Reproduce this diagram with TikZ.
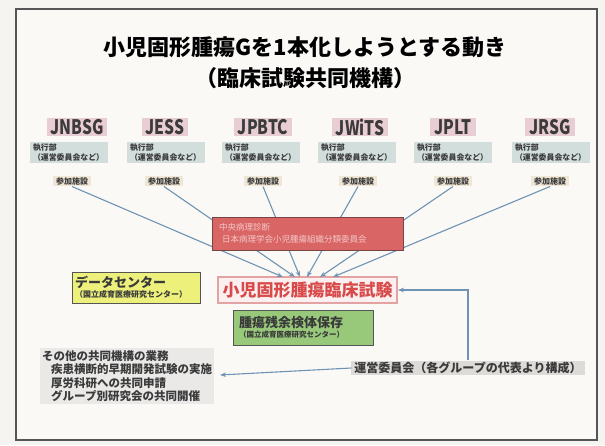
\documentclass[tikz,border=0pt]{standalone}
\usepackage{fontspec}
\setmainfont{Noto Sans CJK JP}
\usetikzlibrary{arrows.meta,calc}
\definecolor{paper}{HTML}{F6F4F0}
\definecolor{inner}{HTML}{FAF9F6}
\definecolor{framecol}{HTML}{555555}
\definecolor{grpbg}{HTML}{E8CDD5}
\definecolor{grptxt}{HTML}{3C3A3A}
\definecolor{execbg}{HTML}{D2DEDC}
\definecolor{sitebg}{HTML}{EFE6D6}
\definecolor{darktxt}{HTML}{3A3A3A}
\definecolor{linecol}{HTML}{6F93B4}
\definecolor{redfill}{HTML}{D96565}
\definecolor{redtxt}{HTML}{F4C8C8}
\definecolor{trialfill}{HTML}{FBEFEF}
\definecolor{trialdraw}{HTML}{E3A3A3}
\definecolor{trialtxt}{HTML}{D84A4A}
\definecolor{yellowfill}{HTML}{EEF07C}
\definecolor{greenfill}{HTML}{98C97A}
\definecolor{graybg}{HTML}{DCDBD8}
\newcommand{\narrowtxt}[1]{\scalebox{0.78}[1]{#1}}
\begin{document}
\begin{tikzpicture}[x=1pt,y=-1pt,
  grp/.style={fill=grpbg, text=grptxt, font=\bfseries\fontsize{20}{20}\selectfont, inner xsep=4pt, inner ysep=0pt, minimum height=18pt},
  execbox/.style={fill=execbg, text=darktxt, font=\bfseries\fontsize{7.9}{9.5}\selectfont, align=left, text width=72pt, inner xsep=3pt, inner ysep=1.5pt, minimum height=21pt},
  site/.style={fill=sitebg, text=darktxt, font=\bfseries\fontsize{8}{8.5}\selectfont, inner xsep=3pt, inner ysep=1.5pt},
  link/.style={draw=linecol, line width=1.1pt, -{Stealth[length=6pt,width=4.5pt]}}]
\useasboundingbox (0,0) rectangle (605,445);
\fill[paper] (0,0) rectangle (605,445);
\draw[framecol, line width=1.8pt, fill=inner] (16,9) rectangle (597,440);

% title
\node[font=\bfseries\fontsize{22}{26}\selectfont, text=black] (title1) at (305,47) {小児固形腫瘍Gを1本化しようとする動き};
\node[font=\bfseries\fontsize{22}{26}\selectfont, text=black] (title2) at (305,78) {（臨床試験共同機構）};

% groups
\node[grp] (g1) at (77,127) {\narrowtxt{JNBSG}};
\node[grp] (g2) at (165,127) {\narrowtxt{JESS}};
\node[grp] (g3) at (263,127) {\narrowtxt{JPBTC}};
\node[grp] (g4) at (360,127) {\narrowtxt{JWiTS}};
\node[grp] (g5) at (453,127) {\narrowtxt{JPLT}};
\node[grp] (g6) at (550,127) {\narrowtxt{JRSG}};

\node[execbox] (e1) at (69,152.5) {執行部\\（運営委員会など）};
\node[execbox] (e2) at (166,152.5) {執行部\\（運営委員会など）};
\node[execbox] (e3) at (261,152.5) {執行部\\（運営委員会など）};
\node[execbox] (e4) at (357,152.5) {執行部\\（運営委員会など）};
\node[execbox] (e5) at (453,152.5) {執行部\\（運営委員会など）};
\node[execbox] (e6) at (551,152.5) {執行部\\（運営委員会など）};

\node[site] (s1) at (72,181) {参加施設};
\node[site] (s2) at (164,181) {参加施設};
\node[site] (s3) at (263,181) {参加施設};
\node[site] (s4) at (358,181) {参加施設};
\node[site] (s5) at (453,181) {参加施設};
\node[site] (s6) at (550,181) {参加施設};

% trial box
\node[fill=trialfill, draw=trialdraw, line width=1.8pt, minimum width=179pt, minimum height=26pt, inner sep=0pt,
      font=\bfseries\fontsize{17}{17}\selectfont, text=trialtxt] (trial) at (307.5,290) {小児固形腫瘍臨床試験};

% arrow targets
\coordinate (t1) at (283,277);
\coordinate (t2) at (295,277);
\coordinate (t3) at (300,277);
\coordinate (t4) at (307,277);
\coordinate (t5) at (320,277);
\coordinate (t6) at (333,277);

\draw[link] (s1.south) -- (t1);
\draw[link] (s2.south) -- (t2);
\draw[link] (s3.south) -- (t3);
\draw[link] (s4.south) -- (t4);
\draw[link] (s5.south) -- (t5);
\draw[link] (s6.south) -- (t6);

% red box (over the lines)
\node[fill=redfill, draw=framecol!80!red, line width=1pt, minimum width=191pt, minimum height=33pt,
      text width=177pt, inner xsep=7pt, align=left, text=redtxt, font=\fontsize{8.5}{12}\selectfont] (path) at (307.5,233.5)
      {中央病理診断\\\hspace*{3pt}日本病理学会小児腫瘍組織分類委員会};

% data center
\node[fill=yellowfill, draw=framecol, line width=0.8pt, text width=122pt, inner xsep=3pt, minimum height=31pt, align=left,
      text=darktxt, font=\bfseries\fontsize{8}{10}\selectfont] (data) at (136,287.5)
      {{\fontsize{13}{14}\selectfont データセンター}\\（国立成育医療研究センター）};

% green box
\node[fill=greenfill, draw=framecol, line width=0.8pt, text width=128pt, inner xsep=6pt, minimum height=35pt, align=left,
      text=darktxt, font=\bfseries\fontsize{7.5}{10}\selectfont] (bank) at (303,327.5)
      {{\fontsize{13}{14}\selectfont 腫瘍残余検体保存}\\（国立成育医療研究センター）};

% other tasks
\node[fill=graybg!60, text=darktxt, align=left, anchor=north west, inner sep=2pt,
      font=\bfseries\fontsize{11.5}{13.5}\selectfont] (other) at (40,348)
      {その他の共同機構の業務\\
       \hspace*{9pt}疾患横断的早期開発試験の実施\\
       \hspace*{9pt}厚労科研への共同申請\\
       \hspace*{9pt}グループ別研究会の共同開催};

% steering committee
\node[fill=graybg, text=darktxt, inner xsep=3pt, inner ysep=1.5pt,
      font=\bfseries\fontsize{12}{12}\selectfont] (steer) at (468,368) {運営委員会（各グループの代表より構成）};

\coordinate (oth) at (220,375);
\draw[link] (steer.west) -- (oth);
\draw[link] (steer.north) |- (trial.east);
\end{tikzpicture}
\end{document}
